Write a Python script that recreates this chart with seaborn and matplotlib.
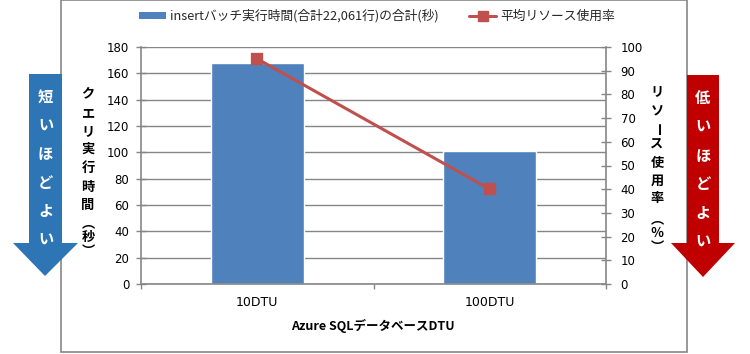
import numpy as np
import pandas as pd
import seaborn as sns
import matplotlib
matplotlib.use("Agg")
from matplotlib import pyplot as plt
from matplotlib.patches import Polygon, Rectangle, Patch
from matplotlib.lines import Line2D

# data
categories = ["10DTU", "100DTU"]
exec_time = [167.5, 101.0]      # seconds (left axis)
resource_usage = [95, 40]       # percent (right axis)
bar_label = "insertバッチ実行時間(合計22,061行)の合計(秒)"
line_label = "平均リソース使用率"
x_title = "Azure SQLデータベースDTU"
left_title = ["ク", "エ", "リ", "実", "行", "時", "間", "︵\n秒\n︶"]
right_title = ["リ", "ソ", "ー", "ス", "使", "用", "率", "︵\n％\n︶"]
left_arrow_text = "短いほどよい"
right_arrow_text = "低いほどよい"

sns.set_theme(style="white")
plt.rcParams["font.family"] = ["Noto Sans CJK JP", "DejaVu Sans"]

W, H = 750, 354
BAR = "#4F81BD"
LINE = "#C0504D"
GRID = "#868686"
NUM_FONT = "DejaVu Sans"

def fx(x):
    return x / W

def fy(y):
    return 1 - y / H

fig = plt.figure(figsize=(W / 100, H / 100), dpi=100)
fig.patch.set_facecolor("white")

# chart border
fig.patches.append(Rectangle((fx(61), fy(352)), fx(687) - fx(61), fy(0.5) - fy(352),
                             transform=fig.transFigure, fill=False, edgecolor=GRID,
                             linewidth=1.2, zorder=0))

ax = fig.add_axes([fx(141), fy(284), fx(606) - fx(141), fy(47) - fy(284)])
df = pd.DataFrame({"dtu": categories, "time": exec_time, "usage": resource_usage})

sns.barplot(data=df, x="dtu", y="time", color=BAR, width=0.4, saturation=1, ax=ax)
ax.set_ylim(0, 180)
ax.set_yticks(np.arange(0, 181, 20))
ax.yaxis.grid(True, color=GRID, linewidth=1)
ax.set_axisbelow(True)

ax2 = ax.twinx()
sns.pointplot(data=df, x="dtu", y="usage", color=LINE, markers="s", ax=ax2,
              markersize=6.5, linewidth=2.2)
ax2.set_ylim(0, 100)
ax2.set_yticks(np.arange(0, 101, 10))

for a in (ax, ax2):
    a.set_xlim(-0.5, 1.5)
    a.set_xlabel("")
    a.set_ylabel("")
    a.spines["top"].set_visible(False)
    for s in ("left", "right", "bottom"):
        a.spines[s].set_color(GRID)
        a.spines[s].set_linewidth(1.2)

ax.spines["right"].set_visible(False)
ax2.spines["left"].set_visible(False)
ax2.spines["bottom"].set_visible(False)

ax.tick_params(axis="y", which="major", direction="inout", length=7, width=1,
               color=GRID, labelsize=8.5, labelcolor="black", pad=5, left=True)
ax2.tick_params(axis="y", which="major", direction="inout", length=7, width=1,
                color=GRID, labelsize=8.5, labelcolor="black", pad=7, right=True)

ax.set_xticks([0, 1])
ax.set_xticklabels(categories)
ax.set_xticks([-0.5, 0.5, 1.5], minor=True)
ax.tick_params(axis="x", which="major", length=0, labelsize=9, labelcolor="black", pad=9)
ax.tick_params(axis="x", which="minor", direction="out", length=3.5, width=1,
               color=GRID, bottom=True)
ax2.tick_params(axis="x", which="both", bottom=False, labelbottom=False)

for lab in ax.get_yticklabels() + ax2.get_yticklabels() + ax.get_xticklabels():
    lab.set_family(NUM_FONT)

fig.text(fx(373), fy(326), x_title, ha="center", va="center", fontsize=9,
         fontweight="bold", color="black")

# legend
handles = [Patch(facecolor=BAR, edgecolor="none"),
           Line2D([], [], color=LINE, linewidth=2.2, marker="s", markersize=6.5)]
fig.legend(handles, [bar_label, line_label], loc="center",
           bbox_to_anchor=(fx(377), fy(16)), bbox_transform=fig.transFigure,
           ncol=2, frameon=False, fontsize=9.2, handlelength=2.1, handleheight=0.45,
           handletextpad=0.3, columnspacing=2.4)

# arrows
left_pts = [(29, 74), (62, 74), (62, 243), (78, 243), (45, 276), (13, 243), (29, 243)]
right_pts = [(687, 75), (719, 75), (719, 243), (735, 243), (703, 277), (671, 243), (687, 243)]
for pts, col in ((left_pts, "#2E75B6"), (right_pts, "#C00000")):
    fig.patches.append(Polygon([(fx(x), fy(y)) for x, y in pts], closed=True,
                               transform=fig.transFigure, facecolor=col,
                               edgecolor="none", zorder=3))

for i, ch in enumerate(left_arrow_text):
    fig.text(fx(45.5), fy(97 + i * 28.6), ch, ha="center", va="center", color="white",
             fontsize=11, fontweight="bold", zorder=4)
for i, ch in enumerate(right_arrow_text):
    fig.text(fx(703), fy(98 + i * 28.8), ch, ha="center", va="center", color="white",
             fontsize=11, fontweight="bold", zorder=4)

# vertical axis titles, one character (or bracket group) at a time
left_y = [93, 113, 131, 149, 168, 187, 205, 237]
right_y = [91, 111, 130, 144, 163, 181, 198, 233]

def vertical_title(parts, x, ys):
    for part, y in zip(parts, ys):
        rot = -90 if part == "ー" else 0
        fig.text(fx(x), fy(y), part, ha="center", va="center", rotation=rot,
                 fontsize=9.5, fontweight="bold", color="black", linespacing=1.0,
                 multialignment="center")

vertical_title(left_title, 88, left_y)
vertical_title(right_title, 657, right_y)

fig.savefig("out.png", dpi=100, facecolor="white")
